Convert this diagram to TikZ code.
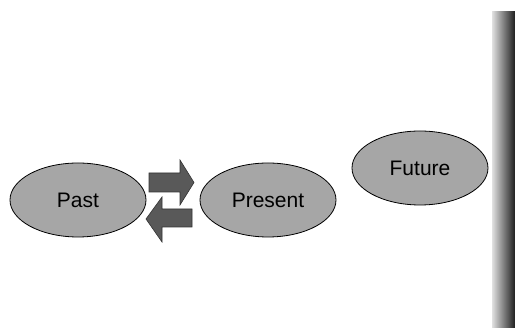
\documentclass[tikz,border=0pt]{standalone}
\usepackage{fontspec}
\setmainfont{Liberation Sans}
\usetikzlibrary{shapes.geometric}
\definecolor{ellfill}{HTML}{A6A6A6}
\definecolor{arrfill}{HTML}{595959}
\tikzset{
  era/.style={ellipse, draw=black, line width=0.8pt, fill=ellfill, minimum width=136pt, minimum height=74pt, inner sep=0pt, font=\fontsize{21}{25}\selectfont},
  blockarrow/.style={draw=black!80, line width=0.6pt, fill=arrfill}
}
\begin{document}
\begin{tikzpicture}[x=1pt,y=-1pt]
\useasboundingbox (0,0) rectangle (515,328);
\shade[left color=black!12, right color=black!88] (492,12) rectangle (515,328);
\node[era] (past) at (78,200) {Past};
\node[era] (present) at (268,200) {Present};
\node[era] (future) at (420,168) {Future};
\draw[blockarrow] (149,173) -- (180,173) -- (180,160) -- (194,182.5) -- (180,205) -- (180,192) -- (149,192) -- cycle;
\draw[blockarrow] (192,209) -- (162,209) -- (162,197) -- (146,219) -- (162,242) -- (162,227) -- (192,227) -- cycle;
\end{tikzpicture}
\end{document}
